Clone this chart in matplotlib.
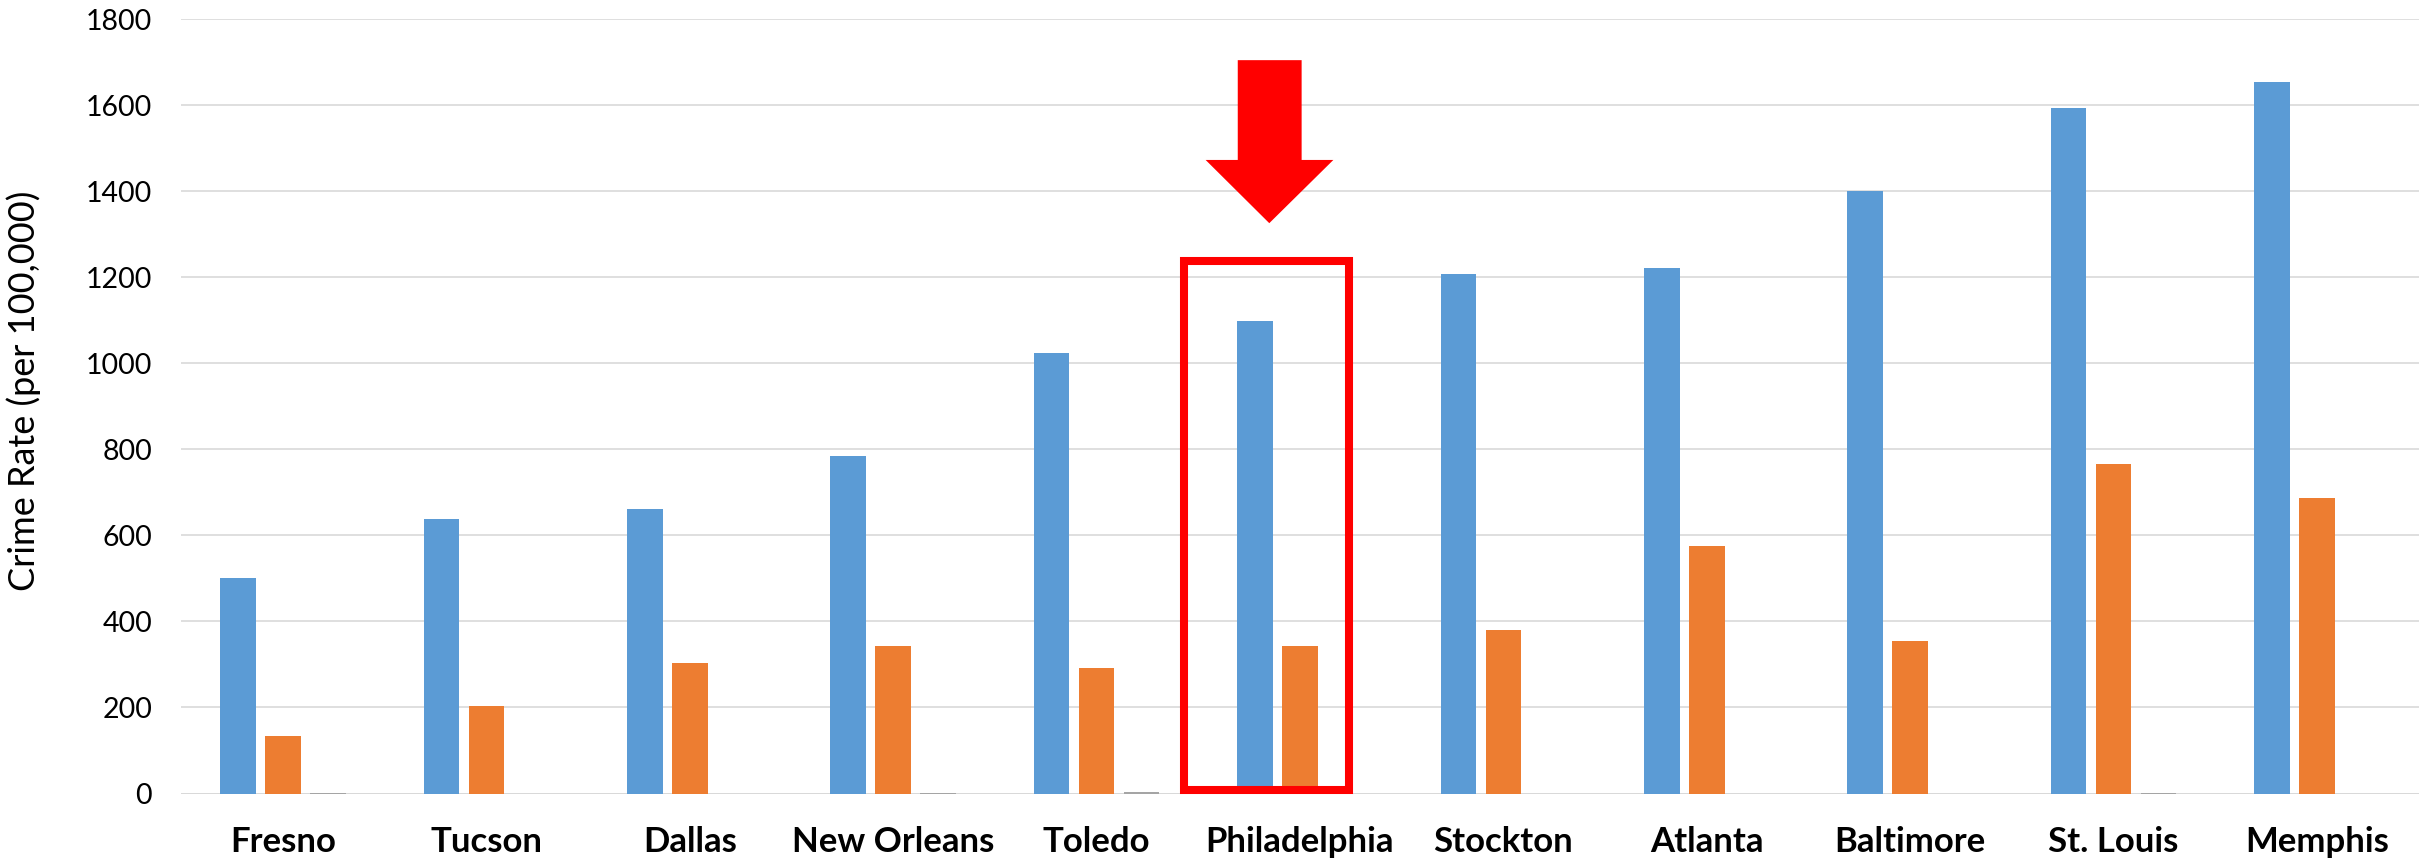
import matplotlib
matplotlib.use("Agg")
import matplotlib.pyplot as plt
from matplotlib.patches import Rectangle, Polygon
import numpy as np

cities = ["Fresno", "Tucson", "Dallas", "New Orleans", "Toledo", "Philadelphia",
          "Stockton", "Atlanta", "Baltimore", "St. Louis", "Memphis"]
series_a = [500, 639, 662, 785, 1024, 1099, 1207, 1222, 1400, 1594, 1655]
series_b = [133, 203, 303, 344, 291, 344, 381, 575, 354, 766, 687]
series_c = [1, 0, 0, 2, 4, 0, 0, 0, 0, 1, 0]
yticks = [0, 200, 400, 600, 800, 1000, 1200, 1400, 1600, 1800]
ylabel = "Crime Rate (per 100,000)"

plt.rcParams['font.family'] = ['Lato', 'DejaVu Sans']

W, H = 2432, 859
fig = plt.figure(figsize=(W / 100, H / 100), dpi=100)
ax = fig.add_axes([181.3 / W, 65.5 / H, (2418.7 - 181.3) / W, (839.7 - 65.5) / H])

x = np.arange(len(cities))
bw = 0.1755
off = 0.221
ax.bar(x - off, series_a, bw, color="#5B9BD5", zorder=3)
ax.bar(x, series_b, bw, color="#ED7D31", zorder=3)
ax.bar(x + off, series_c, bw, color="#A5A5A5", zorder=3)

ax.set_xlim(-0.5, len(cities) - 0.5)
ax.set_ylim(0, 1800)
ax.set_yticks(yticks)
ax.set_yticklabels([str(v) for v in yticks], fontsize=20.5)
ax.set_xticks(x)
ax.set_xticklabels(cities, fontsize=25, fontweight="bold")
ax.tick_params(axis="both", length=0)
ax.tick_params(axis="y", pad=21)
ax.tick_params(axis="x", pad=23.5)
ax.grid(axis="y", color="#D9D9D9", linewidth=1.2, zorder=0)
for s in ax.spines.values():
    s.set_visible(False)
ax.axhline(0, color="#D9D9D9", linewidth=1.4, zorder=2)

ax.set_ylabel(ylabel, fontsize=26)
ax.yaxis.set_label_coords(-0.0625, 0.52)

# highlight annotation around Philadelphia
rect = Rectangle((4.43, 8), 5.243 - 4.43, 1238 - 8, fill=False,
                 edgecolor="#FF0000", linewidth=5.8, zorder=5, clip_on=False)
ax.add_patch(rect)
arrow = Polygon([(4.694, 1705), (5.008, 1705), (5.008, 1473), (5.164, 1473),
                 (4.849, 1326), (4.536, 1473), (4.694, 1473)],
                closed=True, facecolor="#FF0000", edgecolor="none", zorder=5,
                clip_on=False)
ax.add_patch(arrow)

fig.savefig("out.png", dpi=100)
